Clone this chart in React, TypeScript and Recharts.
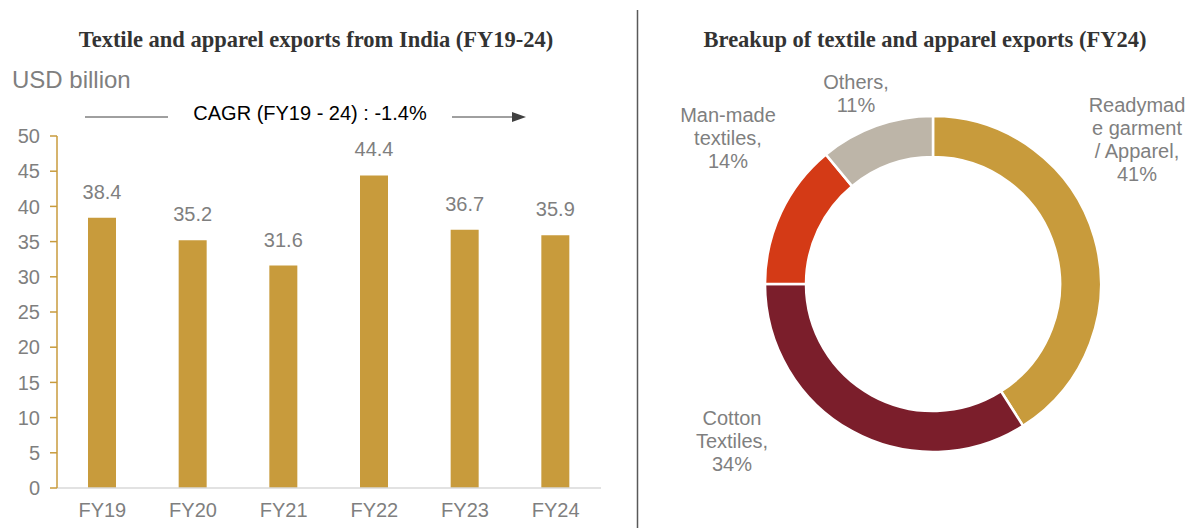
import React from 'react';
import { BarChart, Bar, XAxis, YAxis, LabelList, PieChart, Pie, Cell } from 'recharts';

const years = ['FY19', 'FY20', 'FY21', 'FY22', 'FY23', 'FY24'];
const exportsUsd = [38.4, 35.2, 31.6, 44.4, 36.7, 35.9];
const yTicks = [0, 5, 10, 15, 20, 25, 30, 35, 40, 45, 50];

const segmentNames = [
  ['Readymad', 'e garment', '/ Apparel,'],
  ['Cotton', 'Textiles,'],
  ['Man-made', 'textiles,'],
  ['Others,'],
];
const segmentShares = [41, 34, 14, 11];
const segmentColors = ['#C89B3C', '#7B1E2B', '#D43A16', '#BDB5A8'];

const GOLD = '#C89B3C';
const GREY_TEXT = '#7F7F7F';
const FONT = '"Liberation Sans", Arial, sans-serif';
const SERIF = '"Liberation Serif", "Times New Roman", serif';

const barData = years.map((y, i) => ({ year: y, value: exportsUsd[i] }));
const pieData = segmentShares.map((v, i) => ({ lines: segmentNames[i], value: v }));

// where Excel put each data label, relative to the donut centre
const labelOffset = [
  { dx: 204, dy: -179 },
  { dx: -201, dy: 134 },
  { dx: -205, dy: -169 },
  { dx: -77, dy: -202 },
];

const renderPieLabel = (props: any) => {
  const { cx, cy, index, payload } = props;
  const off = labelOffset[index];
  const lines: string[] = [...payload.lines, `${payload.value}%`];
  return (
    <text
      x={cx + off.dx}
      y={cy + off.dy}
      textAnchor="middle"
      fill={GREY_TEXT}
      fontSize={20}
      fontFamily={FONT}
      dominantBaseline="central"
    >
      {lines.map((l, i) => (
        <tspan key={i} x={cx + off.dx} dy={i === 0 ? 0 : 23}>
          {l}
        </tspan>
      ))}
    </text>
  );
};

export default function App() {
  return (
    <div
      style={{
        position: 'absolute',
        top: 0,
        left: 0,
        width: 1195,
        height: 528,
        background: '#fff',
        fontFamily: FONT,
        overflow: 'hidden',
      }}
    >
      <div
        style={{
          position: 'absolute',
          left: 0,
          width: 632,
          top: 27,
          textAlign: 'center',
          fontFamily: SERIF,
          fontWeight: 'bold',
          fontSize: 22.5,
          color: '#333',
        }}
      >
        Textile and apparel exports from India (FY19-24)
      </div>
      <div
        style={{
          position: 'absolute',
          left: 12,
          top: 66,
          fontSize: 24,
          color: GREY_TEXT,
        }}
      >
        USD billion
      </div>
      <div
        style={{
          position: 'absolute',
          left: 160,
          width: 300,
          top: 102,
          textAlign: 'center',
          fontSize: 20,
          color: '#000',
        }}
      >
        CAGR (FY19 - 24) : -1.4%
      </div>
      <svg style={{ position: 'absolute', left: 0, top: 0 }} width={1195} height={528}>
        <line x1={85} y1={117} x2={168} y2={117} stroke="#404040" strokeWidth={1} />
        <line x1={452} y1={117} x2={514} y2={117} stroke="#404040" strokeWidth={1} />
        <polygon points="512,112 526,117 512,122" fill="#404040" />
        <line x1={637.5} y1={10} x2={637.5} y2={528} stroke="#595959" strokeWidth={1.5} />
      </svg>

      <div style={{ position: 'absolute', left: 0, top: 0 }}>
        <BarChart
          width={637}
          height={528}
          data={barData}
          margin={{ top: 136, right: 36, left: 0, bottom: 0 }}
        >
          <XAxis
            dataKey="year"
            height={40}
            axisLine={{ stroke: '#D9D9D9', strokeWidth: 1.5 }}
            tickLine={false}
            tickSize={6}
            tickMargin={9}
            tick={{ fill: GREY_TEXT, fontSize: 20, fontFamily: FONT }}
          />
          <YAxis
            width={57}
            domain={[0, 50]}
            ticks={yTicks}
            interval={0}
            axisLine={{ stroke: GOLD, strokeWidth: 1.5 }}
            tickLine={{ stroke: GOLD, strokeWidth: 1.5 }}
            tickSize={7}
            tickMargin={10}
            tick={{ fill: GREY_TEXT, fontSize: 20, fontFamily: FONT }}
          />
          <Bar dataKey="value" fill={GOLD} barSize={28} isAnimationActive={false}>
            <LabelList
              dataKey="value"
              position="top"
              offset={19}
              fill={GREY_TEXT}
              fontSize={20}
              fontFamily={FONT}
            />
          </Bar>
        </BarChart>
      </div>

      <div
        style={{
          position: 'absolute',
          left: 640,
          width: 570,
          top: 27,
          textAlign: 'center',
          fontFamily: SERIF,
          fontWeight: 'bold',
          fontSize: 22.5,
          color: '#333',
        }}
      >
        Breakup of textile and apparel exports (FY24)
      </div>
      <div style={{ position: 'absolute', left: 638, top: 0 }}>
        <PieChart width={557} height={528} margin={{ top: 0, right: 0, bottom: 0, left: 0 }}>
          <Pie
            data={pieData}
            dataKey="value"
            cx={295}
            cy={284}
            innerRadius={127}
            outerRadius={168}
            startAngle={90}
            endAngle={-270}
            stroke="#fff"
            strokeWidth={2.5}
            label={renderPieLabel}
            labelLine={false}
            isAnimationActive={false}
          >
            {pieData.map((_, i) => (
              <Cell key={i} fill={segmentColors[i]} />
            ))}
          </Pie>
        </PieChart>
      </div>
    </div>
  );
}
